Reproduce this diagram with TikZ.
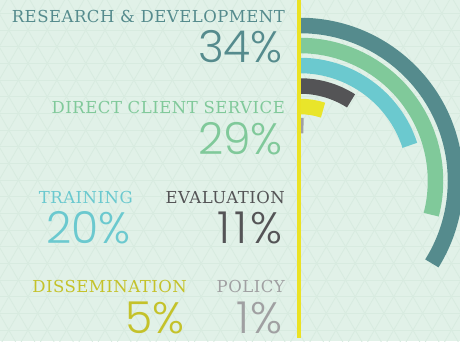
\documentclass[tikz,border=0pt]{standalone}
\usepackage{fontspec}
\setmainfont{DejaVu Serif}[LetterSpace=3]
\newfontfamily\numfont{Poppins Light}
\usetikzlibrary{calc}
\definecolor{bg}{HTML}{E1F1E8}
\definecolor{pat}{HTML}{D8EBE0}
\definecolor{cteal}{HTML}{558B8D}
\definecolor{cgreen}{HTML}{80C99A}
\definecolor{ccyan}{HTML}{6BC9CF}
\definecolor{cdark}{HTML}{545456}
\definecolor{cyel}{HTML}{E9E52A}
\definecolor{cyeltxt}{HTML}{C4C22A}
\definecolor{cgray}{HTML}{A0A0A2}
\definecolor{cline}{HTML}{EBE224}
\tikzset{
  lbl/.style={inner sep=0pt, anchor=base east, font=\fontsize{16.5}{16.5}\selectfont},
  num/.style={inner sep=0pt, anchor=base east, font=\numfont\fontsize{44}{44}\selectfont},
  ring/.style={line width=15.5pt, line cap=butt}
}
\begin{document}
\begin{tikzpicture}[x=1pt,y=1pt]
\useasboundingbox (0,0) rectangle (460,341);
\fill[bg] (0,0) rectangle (460,341);
\begin{scope}
\clip (0,0) rectangle (460,341);
\foreach \k in {-14,...,14} \draw[pat, line width=0.8pt] (0,144.3+\k*16.667) -- (460,144.3+\k*16.667);
\foreach \k in {-40,...,30} {
  \draw[pat, line width=0.8pt] (316.7+\k*19.245,144.3) -- ++(60:420) ;
  \draw[pat, line width=0.8pt] (316.7+\k*19.245,144.3) -- ++(240:420) ;
  \draw[pat, line width=0.8pt] (316.7+\k*19.245,144.3) -- ++(120:420) ;
  \draw[pat, line width=0.8pt] (316.7+\k*19.245,144.3) -- ++(300:420) ;
}
\end{scope}
\coordinate (c) at (300,160);
\draw[ring, cteal]  ($(c)+(90:155.5)$) arc[start angle=90, end angle=-32, radius=155.5];
\draw[ring, cgreen] ($(c)+(90:135.5)$) arc[start angle=90, end angle=-14.4, radius=135.5];
\draw[ring, ccyan]  ($(c)+(90:115.5)$) arc[start angle=90, end angle=18, radius=115.5];
\draw[ring, cdark]  ($(c)+(90:95)$) arc[start angle=90, end angle=57.5, radius=95];
\draw[ring, cyel]   ($(c)+(90:74.5)$) arc[start angle=90, end angle=72, radius=74.5];
\draw[ring, cgray]  ($(c)+(90:55.5)$) arc[start angle=90, end angle=86.4, radius=55.5];
\coordinate (ltop) at (299.2,341);
\coordinate (lbot) at (299.2,3);
\draw[cline, line width=3.5pt] (ltop) -- (lbot);
\node[lbl, text=cteal] (rdl) at (285,319) {RESEARCH \& DEVELOPMENT};
\node[num, text=cteal] (rdn) at (283,279) {34\%};
\node[lbl, text=cgreen] (dcl) at (285,227.7) {DIRECT CLIENT SERVICE};
\node[num, text=cgreen] (dcn) at (283,187) {29\%};
\node[lbl, text=ccyan] (trl) at (133,137.7) {TRAINING};
\node[num, text=ccyan] (trn) at (131,98) {20\%};
\node[lbl, text=cdark] (evl) at (285,137.7) {EVALUATION};
\node[num, text=cdark] (evn) at (283,98) {1\kern5pt1\kern3pt\%};
\node[lbl, text=cyeltxt] (dsl) at (187,48.3) {DISSEMINATION};
\node[num, text=cyeltxt] (dsn) at (185,8) {5\%};
\node[lbl, text=cgray] (pol) at (285,48.3) {POLICY};
\node[num, text=cgray] (pon) at (283,8) {1\kern2pt\%};
\end{tikzpicture}
\end{document}
